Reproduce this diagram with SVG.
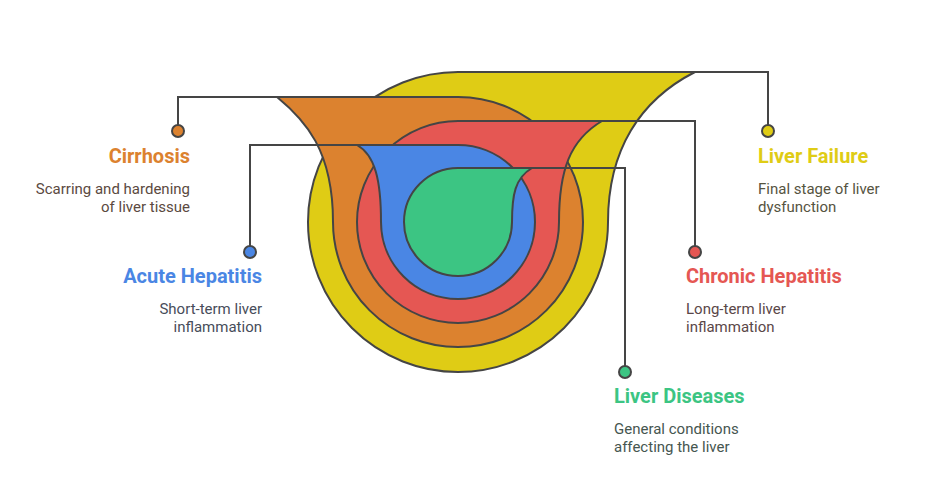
<svg xmlns="http://www.w3.org/2000/svg" width="948" height="481" viewBox="0 0 948 481">
<style>
.sh{stroke:#454545;stroke-width:2;stroke-linejoin:round}
.cn{fill:none;stroke:#454545;stroke-width:2}
.dot{stroke:#454545;stroke-width:2}
.t{font-family:Roboto,"Liberation Sans",sans-serif;font-weight:700;font-size:20px}
.d{font-family:Roboto,"Liberation Sans",sans-serif;font-size:15px}
.r{text-anchor:end}
</style>
<rect width="948" height="481" fill="#ffffff"/>
<g id="liver-failure-shape"><path class="sh" fill="#DFCC15" d="M458,72 L695,72 C640,100 608,150 608,222 A150,150 0 1 1 458,72 Z"/></g>
<g id="cirrhosis-shape"><path class="sh" fill="#DC822F" d="M458,97 L277,97 C305,120 333,150 333,222 A125,125 0 1 0 458,97 Z"/></g>
<g id="chronic-hepatitis-shape"><path class="sh" fill="#E55753" d="M458,121 L602,121 C570,140 559,170 559,222 A101,101 0 1 1 458,121 Z"/></g>
<g id="acute-hepatitis-shape"><path class="sh" fill="#4A86E4" d="M458,145 L357,145 C375,155 381,180 381,222 A77,77 0 1 0 458,145 Z"/></g>
<g id="liver-diseases-shape"><path class="sh" fill="#3CC583" d="M458,168 L532,168 C515,178 512,195 512,222 A54,54 0 1 1 458,168 Z"/></g>
<g id="connectors">
<path class="cn" d="M695,72 H768 V125"/>
<path class="cn" d="M277,97 H178 V125"/>
<path class="cn" d="M602,121 H695 V246"/>
<path class="cn" d="M357,145 H250 V246"/>
<path class="cn" d="M532,168 H625 V366"/>
<circle class="dot" cx="768" cy="131" r="6" fill="#DFCC15"/>
<circle class="dot" cx="178" cy="131" r="6" fill="#DC822F"/>
<circle class="dot" cx="695" cy="252" r="6" fill="#E55753"/>
<circle class="dot" cx="250" cy="252" r="6" fill="#4A86E4"/>
<circle class="dot" cx="625" cy="372" r="6" fill="#3CC583"/>
</g>
<g id="cirrhosis">
<text class="t r" x="190" y="163" fill="#DC822F">Cirrhosis</text>
<text class="d r" x="190" y="194" fill="#5b4a3f">Scarring and hardening</text>
<text class="d r" x="190" y="212" fill="#5b4a3f">of liver tissue</text>
</g>
<g id="acute-hepatitis">
<text class="t r" x="262" y="283" fill="#4A86E4">Acute Hepatitis</text>
<text class="d r" x="262" y="314" fill="#474d5a">Short-term liver</text>
<text class="d r" x="262" y="332" fill="#474d5a">inflammation</text>
</g>
<g id="liver-failure">
<text class="t" x="758" y="163" fill="#DFCC15">Liver Failure</text>
<text class="d" x="758" y="194" fill="#56543f">Final stage of liver</text>
<text class="d" x="758" y="212" fill="#56543f">dysfunction</text>
</g>
<g id="chronic-hepatitis">
<text class="t" x="686" y="283" fill="#E55753">Chronic Hepatitis</text>
<text class="d" x="686" y="314" fill="#5a4748">Long-term liver</text>
<text class="d" x="686" y="332" fill="#5a4748">inflammation</text>
</g>
<g id="liver-diseases">
<text class="t" x="614" y="403" fill="#3CC583">Liver Diseases</text>
<text class="d" x="614" y="434" fill="#465650">General conditions</text>
<text class="d" x="614" y="452" fill="#465650">affecting the liver</text>
</g>
</svg>
